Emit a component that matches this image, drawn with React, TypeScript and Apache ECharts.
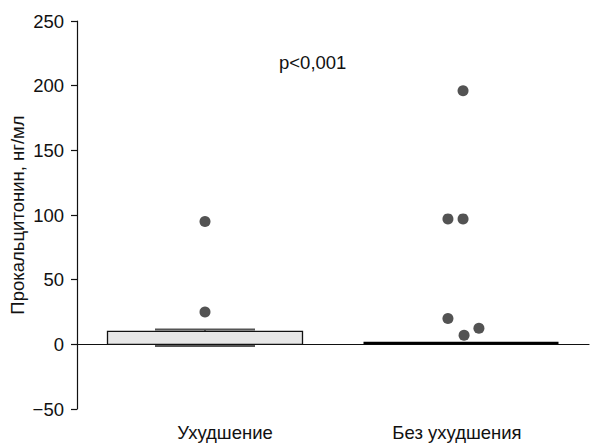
import React, { useEffect, useRef } from "react";
import * as echarts from "echarts";

const categories = ["Ухудшение", "Без ухудшения"];
const yTicks = { min: -50, max: 250, interval: 50 };
// box: [min, Q1, median, Q3, max] (whisker ends drawn separately)
const boxValues = [
  [0, 0, 0, 10, 10],
  [1, 1, 1, 1, 1],
];
const whiskerValues = [
  [-1.3, 5, 5, 5, 11.4],
  null,
];
// individual points: [x position in category units (0..2), value]
const pointsWorse = [
  [0.5, 95],
  [0.5, 25],
];
const pointsNoWorse = [
  [1.508, 196],
  [1.449, 97],
  [1.508, 97],
  [1.449, 20],
  [1.57, 12.5],
  [1.512, 7],
];
const pText = "p<0,001";
const yName = "Прокальцитонин, нг/мл";

const FONT = "'Liberation Sans', Arial, Helvetica, sans-serif";
const FS = 18.5;

export default function App() {
  const ref = useRef<HTMLDivElement>(null);
  useEffect(() => {
    document.body.style.margin = "0";
    const chart = echarts.init(ref.current!, null, { renderer: "svg" });
    const grid = { left: 77, right: 4, top: 21, bottom: 35, containLabel: false, outerBoundsMode: "none" };
    chart.setOption({
      animation: false,
      backgroundColor: "#fff",
      textStyle: { fontFamily: FONT },
      grid,
      xAxis: [
        {
          type: "category",
          data: categories,
          boundaryGap: true,
          axisLine: { lineStyle: { color: "#111", width: 1.2 } },
          axisTick: { alignWithLabel: true, length: 8, lineStyle: { color: "#111", width: 1.2 } },
          axisLabel: {
            color: "#111",
            fontSize: FS,
            margin: 13,
            fontFamily: FONT,
            formatter: (v: string, i: number) => (i === 0 ? `{a|${v}}` : `{b|${v}}`),
            rich: {
              a: { fontSize: FS, fontFamily: FONT, color: "#111", lineHeight: 20, padding: [0, 0, 0, 40] },
              b: { fontSize: FS, fontFamily: FONT, color: "#111", lineHeight: 20, padding: [0, 8, 0, 0] },
            },
          },
          splitLine: { show: false },
        },
        {
          type: "category",
          data: categories,
          show: false,
        },
        {
          type: "value",
          min: 0,
          max: 2,
          show: false,
        },
      ],
      yAxis: {
        type: "value",
        min: yTicks.min,
        max: yTicks.max,
        interval: yTicks.interval,
        name: yName,
        nameLocation: "middle",
        nameGap: 50,
        nameMoveOverlap: false,
        nameTextStyle: { color: "#111", fontSize: FS, fontFamily: FONT },
        axisLine: { show: true, lineStyle: { color: "#111", width: 1.2 } },
        axisTick: { show: true, length: 6, lineStyle: { color: "#111", width: 1.2 } },
        axisLabel: {
          color: "#111",
          fontSize: FS,
          margin: 13,
          fontFamily: FONT,
          formatter: (v: number) => String(v).replace("-", "\u2212"),
        },
        splitLine: { show: false },
      },
      series: [
        {
          type: "boxplot",
          xAxisIndex: 1,
          boxWidth: [100, 100],
          itemStyle: { color: "transparent", borderColor: "#555", borderWidth: 2 },
          data: whiskerValues.map((w) => (w ? w : "-")),
          z: 2,
        },
        {
          type: "boxplot",
          xAxisIndex: 0,
          boxWidth: [195, 195],
          itemStyle: { color: "#e6e6e6", borderColor: "#111", borderWidth: 1.3 },
          data: boxValues.map((b, i) =>
            i === 1
              ? { value: b, itemStyle: { borderWidth: 2.6, borderColor: "#000" } }
              : { value: b }
          ),
          z: 3,
        },
        {
          type: "scatter",
          xAxisIndex: 2,
          symbolSize: 11,
          itemStyle: { color: "#4a4a4a", opacity: 0.95 },
          data: [...pointsWorse, ...pointsNoWorse],
          z: 4,
        },
      ],
      graphic: [
        {
          type: "text",
          left: 279,
          top: 53,
          style: { text: pText, fontSize: FS, fill: "#111", fontFamily: FONT },
        },
      ],
    });
    return () => chart.dispose();
  }, []);
  return <div ref={ref} style={{ width: 593, height: 444 }} />;
}
